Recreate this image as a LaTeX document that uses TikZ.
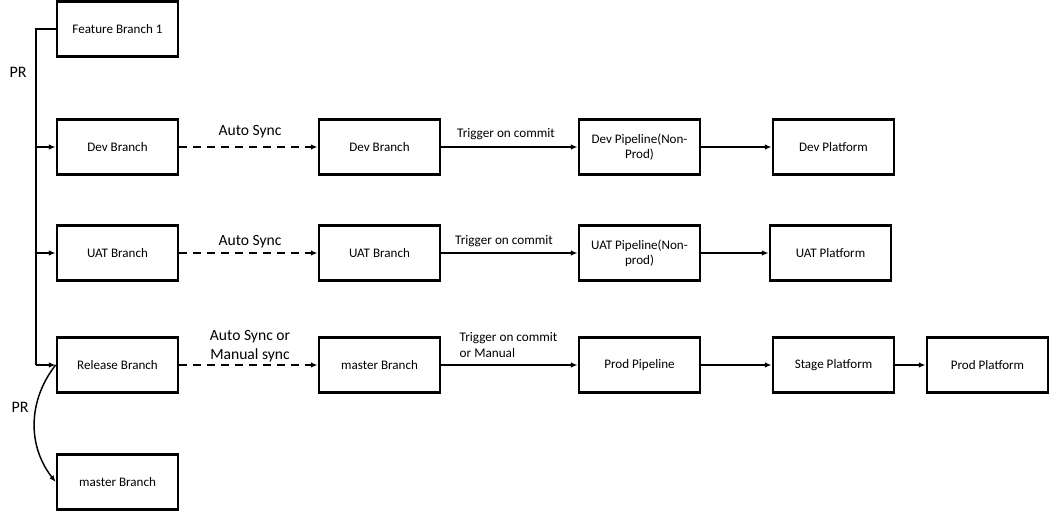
\documentclass[tikz,border=0pt]{standalone}
\usepackage{fontspec}
\setmainfont{Carlito}
\usetikzlibrary{arrows.meta}

\begin{document}
\begin{tikzpicture}[
    x=0.75pt, y=-0.75pt,
    font=\fontsize{9.8}{11.5}\selectfont,
    box/.style={rectangle, draw=black, line width=1.8pt, fill=white,
                minimum width=91pt, minimum height=41pt, inner sep=2pt,
                align=center},
    conn/.style={black, line width=1.1pt, -{Latex[length=5pt,width=4pt]}},
    sync/.style={conn, dash pattern=on 6pt off 4.5pt},
    lab/.style={font=\fontsize{11.7}{14}\selectfont, align=center},
    trig/.style={font=\fontsize{9.9}{11.5}\selectfont, align=left},
]
\useasboundingbox (0,0) rectangle (1050,512);

% ---- left column: git branches ----
\node[box] (feat)    at (117.5,29)  {Feature Branch 1};
\node[box] (devL)    at (117.5,147) {Dev Branch};
\node[box] (uatL)    at (117.5,253) {UAT Branch};
\node[box] (relL)    at (117.5,365) {Release Branch};
\node[box] (mastL)   at (117.5,482) {master Branch};

% ---- mirrored branches ----
\node[box] (devM)    at (379.5,147) {Dev Branch};
\node[box] (uatM)    at (379.5,253) {UAT Branch};
\node[box] (mastM)   at (379.5,365) {master Branch};

% ---- pipelines ----
\node[box] (devPipe)  at (639.5,147) {Dev Pipeline(Non-\\Prod)};
\node[box] (uatPipe)  at (639.5,253) {UAT Pipeline(Non-\\prod)};
\node[box] (prodPipe) at (639.5,365) {Prod Pipeline};

% ---- platforms ----
\node[box] (devPlat)   at (833.5,147) {Dev Platform};
\node[box] (uatPlat)   at (830.5,253) {UAT Platform};
\node[box] (stagePlat) at (833.5,365) {Stage Platform};
\node[box] (prodPlat)  at (987.5,365) {Prod Platform};

% ---- PR trunk ----
\coordinate (trunkTop) at (36,29);
\coordinate (trunkBot) at (36,365);
\draw[line width=1.1pt] (feat.west) -- (trunkTop) -- (trunkBot);
\draw[conn] (trunkBot) -- (relL.west);
\draw[conn] (trunkTop |- devL.west) -- (devL.west);
\draw[conn] (trunkTop |- uatL.west) -- (uatL.west);
\draw[conn] (relL.west) to[bend right=38] (mastL.west);
\node (pr1) at (18,72)  {\fontsize{12}{14}\selectfont PR};
\node (pr2) at (20,407) {\fontsize{12}{14}\selectfont PR};

% ---- sync arrows ----
\draw[sync] (devL) -- (devM);
\draw[sync] (uatL) -- (uatM);
\draw[sync] (relL) -- (mastM);
\node[lab] (syncDev) at (250,132) {Auto Sync};
\node[lab] (syncUat) at (250,242) {Auto Sync};
\node[lab] (syncRel) at (250,346) {Auto Sync or\\Manual sync};

% ---- triggers ----
\draw[conn] (devM) -- (devPipe);
\draw[conn] (uatM) -- (uatPipe);
\draw[conn] (mastM) -- (prodPipe);
\node[trig] (trigDev) at (506,134) {Trigger on commit};
\node[trig] (trigUat) at (504,241) {Trigger on commit};
\node[trig, anchor=west] (trigRel) at (455,345) {Trigger on commit\\or Manual};

% ---- deploy ----
\draw[conn] (devPipe) -- (devPlat);
\draw[conn] (uatPipe) -- (uatPlat);
\draw[conn] (prodPipe) -- (stagePlat);
\draw[conn] (stagePlat) -- (prodPlat);
\end{tikzpicture}
\end{document}
